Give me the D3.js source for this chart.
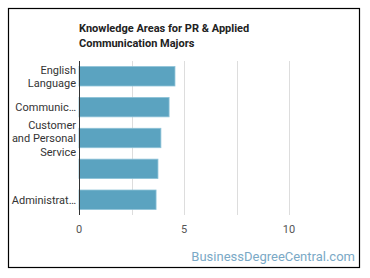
<!DOCTYPE html>
<html>
<head>
<meta charset="utf-8">
<script src="https://cdn.jsdelivr.net/npm/d3@7"></script>
<style>
  body { margin: 0; background: #fff; }
  text { font-family: Roboto, "Open Sans", sans-serif; }
</style>
</head>
<body>
<div id="chart"></div>
<script>
const categories = [
    ["English", "Language"],
    ["Communic…"],
    ["Customer", "and Personal", "Service"],
    [""],
    ["Administrat…"]
];
const values = [4.57, 4.29, 3.9, 3.76, 3.67];
const xTicks = [0, 5, 10];
const gridTicks = [2.5, 5, 7.5, 10];

const WIDTH = 370;
const HEIGHT = 278;

const svg = d3.select("#chart")
    .append("svg")
    .attr("width", WIDTH)
    .attr("height", HEIGHT);

svg.append("rect")
    .attr("x", 8.5).attr("y", 8.5)
    .attr("width", 351).attr("height", 259)
    .attr("fill", "#fff")
    .attr("stroke", "#000")
    .attr("stroke-width", 1.2);

const title = svg.append("text")
    .attr("x", 79)
    .attr("y", 32)
    .attr("font-size", 11)
    .attr("font-weight", "bold")
    .attr("fill", "#222");
title.append("tspan").attr("x", 79).text("Knowledge Areas for PR & Applied");
title.append("tspan").attr("x", 79).attr("dy", 15).text("Communication Majors");

const x = d3.scaleLinear().domain([0, 12.5]).range([79, 341.5]);
const y = d3.scaleBand()
    .domain(d3.range(values.length))
    .range([61, 215])
    .paddingInner(0.37)
    .paddingOuter(0.18);

svg.selectAll("line.grid")
    .data(gridTicks)
    .join("line")
    .attr("class", "grid")
    .attr("x1", d => Math.round(x(d)) + 0.5)
    .attr("x2", d => Math.round(x(d)) + 0.5)
    .attr("y1", 61)
    .attr("y2", 215)
    .attr("stroke", "#ddd")
    .attr("stroke-width", 1);

svg.selectAll("rect.bar")
    .data(values)
    .join("rect")
    .attr("class", "bar")
    .attr("x", x(0))
    .attr("y", (d, i) => y(i))
    .attr("width", d => x(d) - x(0))
    .attr("height", y.bandwidth())
    .attr("fill", "#5ba3c0")
    .attr("stroke", "#8ec3d8")
    .attr("stroke-width", 0.8);

svg.append("line")
    .attr("x1", 79.5).attr("x2", 79.5)
    .attr("y1", 61).attr("y2", 215)
    .attr("stroke", "#333")
    .attr("stroke-width", 1);

const lineH = 13.5;
svg.selectAll("text.cat")
    .data(categories)
    .join("text")
    .attr("class", "cat")
    .attr("text-anchor", "end")
    .attr("font-size", 11)
    .attr("fill", "#333")
    .each(function (lines, i) {
        const cy = y(i) + y.bandwidth() / 2;
        const top = cy - (lines.length - 1) * lineH / 2;
        d3.select(this).selectAll("tspan")
            .data(lines)
            .join("tspan")
            .attr("x", 76)
            .attr("y", (d, j) => top + j * lineH + 4)
            .text(d => d);
    });

svg.selectAll("text.tick")
    .data(xTicks)
    .join("text")
    .attr("class", "tick")
    .attr("x", d => x(d))
    .attr("y", 233)
    .attr("text-anchor", "middle")
    .attr("font-size", 11)
    .attr("fill", "#555")
    .text(d => d);

svg.append("text")
    .attr("x", 355)
    .attr("y", 261)
    .attr("text-anchor", "end")
    .attr("font-size", 13)
    .attr("fill", "#7aa9c6")
    .text("BusinessDegreeCentral.com");
</script>
</body>
</html>
